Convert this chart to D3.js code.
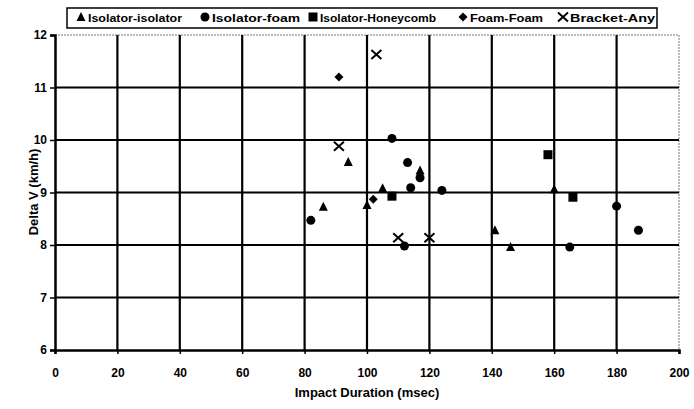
<!DOCTYPE html>
<html>
<head>
<meta charset="utf-8">
<script src="https://cdnjs.cloudflare.com/ajax/libs/d3/7.8.5/d3.min.js"></script>
<style>
  body { margin: 0; background: #fff; }
  text { font-family: "Liberation Sans", Arial, sans-serif; font-weight: bold; fill: #000; }
</style>
</head>
<body>
<script>
// data: [impact duration (msec), delta V (km/h)]
var isolatorIsolator = [[86, 8.73], [94, 9.58], [100, 8.76], [105, 9.08], [117, 9.42], [141, 8.28], [146, 7.96], [160, 9.06]];
var isolatorFoam = [[82, 8.47], [108, 10.03], [112, 7.98], [113, 9.57], [114, 9.09], [117, 9.28], [124, 9.04], [165, 7.96], [180, 8.74], [187, 8.28]];
var isolatorHoneycomb = [[108, 8.93], [158, 9.72], [166, 8.91]];
var foamFoam = [[91, 11.2], [102, 8.87]];
var bracketAny = [[91, 9.88], [103, 11.63], [110, 8.14], [120, 8.14]];

var seriesNames = ["Isolator-isolator", "Isolator-foam", "Isolator-Honeycomb", "Foam-Foam", "Bracket-Any"];
var seriesData = [isolatorIsolator, isolatorFoam, isolatorHoneycomb, foamFoam, bracketAny];
var seriesShapes = ["triangle", "circle", "square", "diamond", "cross"];

var xTicks = [0, 20, 40, 60, 80, 100, 120, 140, 160, 180, 200];
var xTickLabels = ["0", "20", "40", "60", "80", "100", "120", "140", "160", "180", "200"];
var yTicks = [6, 7, 8, 9, 10, 11, 12];

var W = 694, H = 409;
var svg = d3.select("body").append("svg").attr("width", W).attr("height", H);

var x = d3.scaleLinear().domain([0, 200]).range([55, 679]);
var y = d3.scaleLinear().domain([6, 12]).range([350, 35]);

// plot frame (light dotted top / right)
svg.append("line").attr("x1", x(0)).attr("x2", x(200)).attr("y1", y(12)).attr("y2", y(12))
  .attr("stroke", "#777").attr("stroke-width", 1).attr("stroke-dasharray", "2,1");
svg.append("line").attr("x1", x(200)).attr("x2", x(200)).attr("y1", y(12)).attr("y2", y(6))
  .attr("stroke", "#777").attr("stroke-width", 1).attr("stroke-dasharray", "2,1");

// grid
svg.append("g").selectAll("line.h").data(yTicks.slice(1, -1)).enter().append("line")
  .attr("x1", x(0)).attr("x2", x(200))
  .attr("y1", function (d) { return y(d); }).attr("y2", function (d) { return y(d); })
  .attr("stroke", "#000").attr("stroke-width", 2.2);
svg.append("g").selectAll("line.v").data(xTicks.slice(1, -1)).enter().append("line")
  .attr("y1", y(12)).attr("y2", y(6))
  .attr("x1", function (d) { return x(d); }).attr("x2", function (d) { return x(d); })
  .attr("stroke", "#000").attr("stroke-width", 2.2);

// axes
var yAxis = d3.axisLeft(y).tickValues(yTicks).tickSize(5).tickPadding(4).tickFormat(d3.format("d"));
var gy = svg.append("g").attr("transform", "translate(" + x(0) + ",0)").call(yAxis);
var xAxis = d3.axisBottom(x).tickValues(xTicks).tickSize(4).tickPadding(14)
  .tickFormat(function (d, i) { return xTickLabels[i]; });
var gx = svg.append("g").attr("transform", "translate(0," + y(6) + ")").call(xAxis);
[gx, gy].forEach(function (g) {
  g.select(".domain").attr("stroke", "#000").attr("stroke-width", 2.5);
  g.selectAll(".tick line").attr("stroke", "#000").attr("stroke-width", 1.5);
  g.selectAll(".tick text").attr("font-size", 12).attr("font-family", "Liberation Sans, Arial, sans-serif")
    .attr("font-weight", "bold").attr("fill", "#000");
});
gy.selectAll(".tick text").attr("x", -8);

// axis titles
svg.append("text").attr("x", 367).attr("y", 397).attr("text-anchor", "middle").attr("font-size", 13)
  .text("Impact Duration (msec)");
svg.append("text").attr("transform", "translate(38,192) rotate(-90)").attr("text-anchor", "middle")
  .attr("font-size", 13).text("Delta V (km/h)");

// marker shapes
function drawShape(g, shape, cx, cy) {
  if (shape === "circle") {
    g.append("circle").attr("cx", cx).attr("cy", cy).attr("r", 4.5).attr("fill", "#000");
  } else if (shape === "triangle") {
    g.append("path").attr("d", "M" + cx + "," + (cy - 5) + "L" + (cx + 4.5) + "," + (cy + 4) + "L" + (cx - 4.5) + "," + (cy + 4) + "Z")
      .attr("fill", "#000");
  } else if (shape === "square") {
    g.append("rect").attr("x", cx - 4.5).attr("y", cy - 4.5).attr("width", 9).attr("height", 9).attr("fill", "#000");
  } else if (shape === "diamond") {
    g.append("path").attr("d", "M" + cx + "," + (cy - 4.5) + "L" + (cx + 4.5) + "," + cy + "L" + cx + "," + (cy + 4.5) + "L" + (cx - 4.5) + "," + cy + "Z")
      .attr("fill", "#000");
  } else {
    g.append("path").attr("d", "M" + (cx - 5) + "," + (cy - 4.5) + "L" + (cx + 5) + "," + (cy + 4.5) + "M" + (cx + 5) + "," + (cy - 4.5) + "L" + (cx - 5) + "," + (cy + 4.5))
      .attr("stroke", "#000").attr("stroke-width", 2).attr("fill", "none");
  }
}

var marks = svg.append("g");
seriesData.forEach(function (data, i) {
  data.forEach(function (d) {
    drawShape(marks, seriesShapes[i], x(d[0]), y(d[1]));
  });
});

// legend
var legend = svg.append("g");
legend.append("rect").attr("x", 67).attr("y", 8).attr("width", 590).attr("height", 20)
  .attr("fill", "#fff").attr("stroke", "#000").attr("stroke-width", 1.5);
var legendSym = [81, 205, 313, 463, 563];
var legendTextW = [94, 88, 116, 73, 85];
seriesNames.forEach(function (name, i) {
  drawShape(legend, seriesShapes[i], legendSym[i], 17);
  legend.append("text").attr("x", legendSym[i] + 7).attr("y", 22).attr("font-size", 11)
    .attr("textLength", legendTextW[i]).attr("lengthAdjust", "spacingAndGlyphs").text(name);
});
</script>
</body>
</html>
